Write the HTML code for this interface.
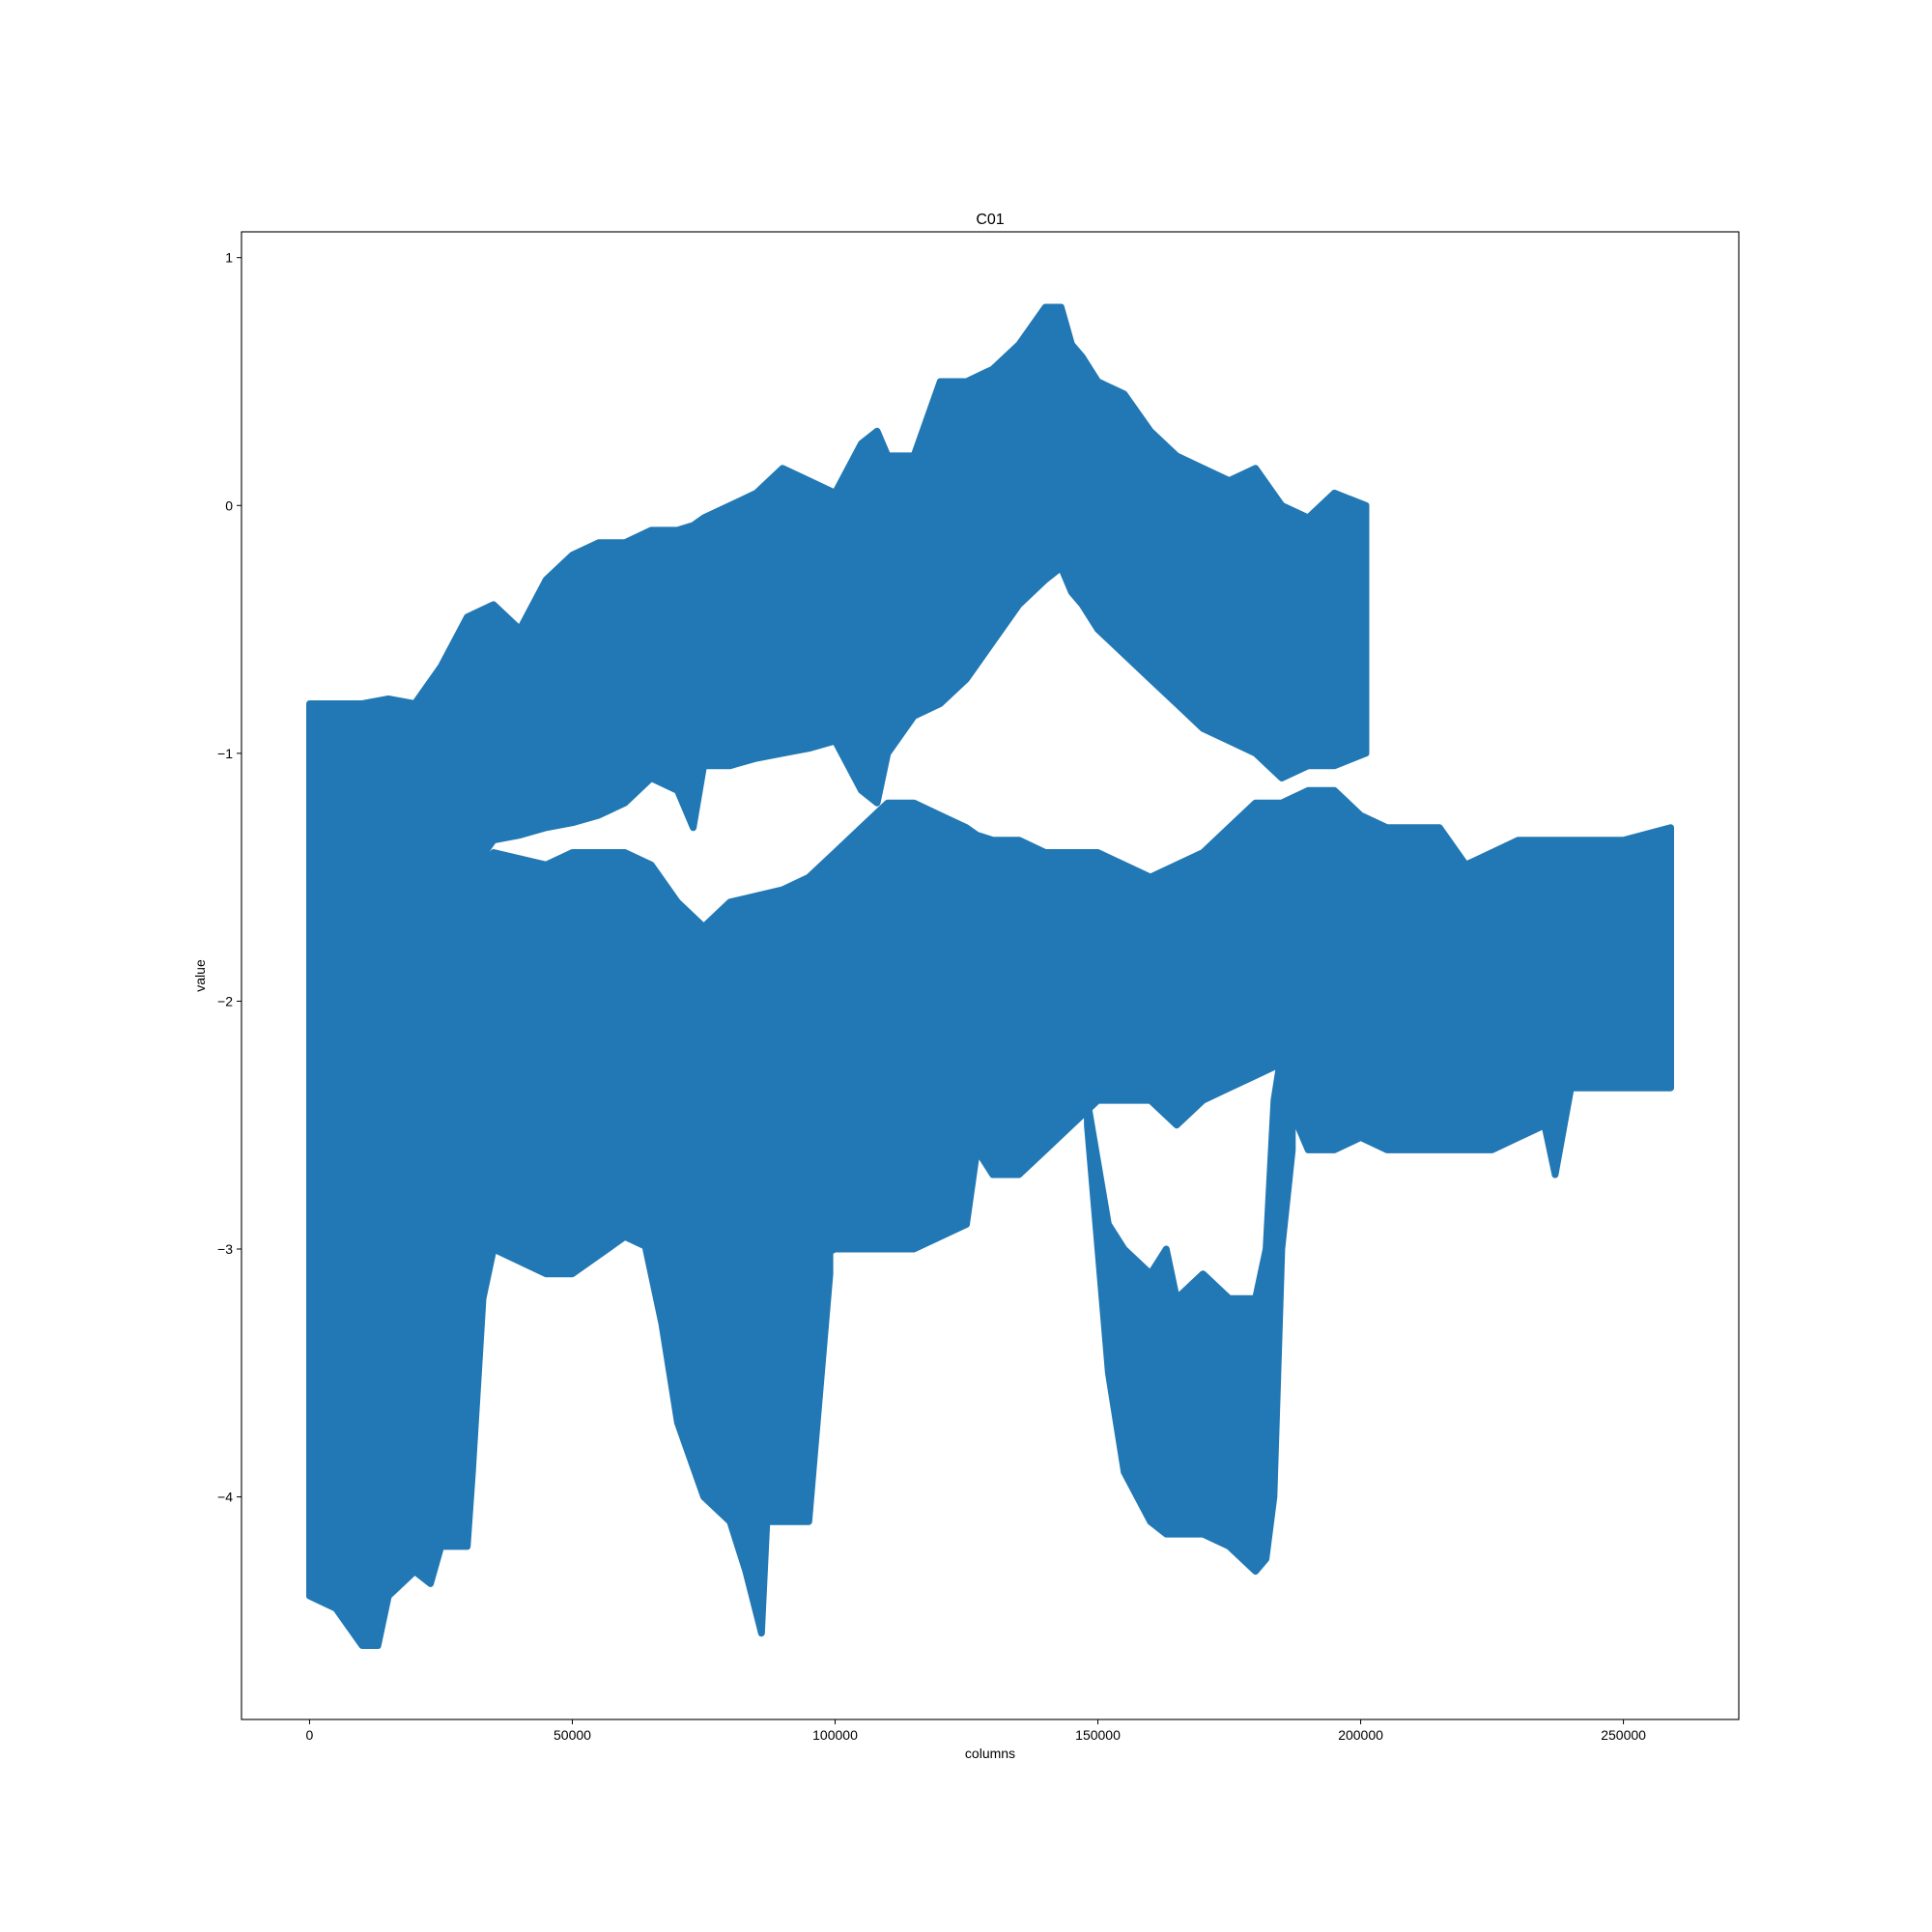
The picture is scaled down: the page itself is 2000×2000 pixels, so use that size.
<!DOCTYPE html>
<html><head><meta charset="utf-8"><style>
html,body{margin:0;padding:0;background:#fff;}
svg{display:block;font-family:"Liberation Sans","DejaVu Sans",sans-serif;}
</style></head><body>
<svg id="chart" width="2000" height="2000" viewBox="0 0 2000 2000">
<rect width="2000" height="2000" fill="#fff"/>
<g id="plot"></g>
<g id="axes"></g>
<text x="1025" y="232" font-size="16" text-anchor="middle">C01</text>
<text x="1025" y="1820" font-size="14" text-anchor="middle">columns</text>
<text x="0" y="0" font-size="14" text-anchor="middle" transform="translate(212,1010) rotate(-90)">value</text>
</svg>
<script>
const xTicks=[0,50000,100000,150000,200000,250000];
const yTicks=[1,0,-1,-2,-3,-4];
const yTickLabels=["1","0","\u22121","\u22122","\u22123","\u22124"];
// top band (upper cluster)
const topX=[0,5000,10000,15000,20000,25000,30000,35000,40000,45000,50000,55000,60000,65000,70000,73000,75000,80000,85000,90000,95000,100000,105000,108000,110000,115000,120000,125000,130000,135000,140000,143000,145000,147000,150000,155000,160000,165000,170000,175000,180000,185000,190000,195000,201000];
const topUpper=[-0.8,-0.8,-0.8,-0.78,-0.8,-0.65,-0.45,-0.4,-0.5,-0.3,-0.2,-0.15,-0.15,-0.1,-0.1,-0.08,-0.05,0.0,0.05,0.15,0.1,0.05,0.25,0.3,0.2,0.2,0.5,0.5,0.55,0.65,0.8,0.8,0.65,0.6,0.5,0.45,0.3,0.2,0.15,0.1,0.15,0.0,-0.05,0.05,0.0];
const topLower=[-1.9,-1.9,-1.9,-1.8,-1.7,-1.6,-1.5,-1.35,-1.33,-1.3,-1.28,-1.25,-1.2,-1.1,-1.15,-1.3,-1.05,-1.05,-1.02,-1.0,-0.98,-0.95,-1.15,-1.2,-1.0,-0.85,-0.8,-0.7,-0.55,-0.4,-0.3,-0.25,-0.35,-0.4,-0.5,-0.6,-0.7,-0.8,-0.9,-0.95,-1.0,-1.1,-1.05,-1.05,-1.0];
// middle band
const midX=[0,30000,35000,45000,50000,60000,65000,70000,75000,80000,90000,95000,100000,105000,110000,115000,120000,125000,127000,130000,135000,140000,145000,150000,155000,160000,165000,170000,175000,180000,185000,187000,190000,195000,200000,205000,210000,215000,220000,225000,230000,235000,237000,240000,250000,259000];
const midUpper=[-1.5,-1.5,-1.4,-1.45,-1.4,-1.4,-1.45,-1.6,-1.7,-1.6,-1.55,-1.5,-1.4,-1.3,-1.2,-1.2,-1.25,-1.3,-1.33,-1.35,-1.35,-1.4,-1.4,-1.4,-1.45,-1.5,-1.45,-1.4,-1.3,-1.2,-1.2,-1.18,-1.15,-1.15,-1.25,-1.3,-1.3,-1.3,-1.45,-1.4,-1.35,-1.35,-1.35,-1.35,-1.35,-1.3];
const midLower=[-3.0,-3.0,-3.0,-3.1,-3.1,-2.95,-3.0,-3.0,-3.0,-3.0,-3.0,-3.05,-3.0,-3.0,-3.0,-3.0,-2.95,-2.9,-2.6,-2.7,-2.7,-2.6,-2.5,-2.4,-2.4,-2.4,-2.5,-2.4,-2.35,-2.3,-2.25,-2.45,-2.6,-2.6,-2.55,-2.6,-2.6,-2.6,-2.6,-2.6,-2.55,-2.5,-2.7,-2.35,-2.35,-2.35];
// deep dip segments
const dip1X=[0,5000,10000,13000,15000,20000,23000,25000,30000,31000,33000,35000];
const dip1Upper=[-1.5,-1.5,-1.5,-1.5,-1.5,-1.5,-1.5,-1.5,-1.5,-1.6,-2.0,-2.5];
const dip1Lower=[-4.4,-4.45,-4.6,-4.6,-4.4,-4.3,-4.35,-4.2,-4.2,-3.9,-3.2,-3.0];
const dip2X=[64000,67000,70000,75000,80000,83000,86000,87000,90000,95000,97000,99000];
const dip2Upper=[-2.8,-2.8,-2.8,-2.8,-2.8,-2.8,-2.8,-2.8,-2.8,-2.8,-2.8,-2.8];
const dip2Lower=[-3.0,-3.3,-3.7,-4.0,-4.1,-4.3,-4.55,-4.1,-4.1,-4.1,-3.6,-3.1];
const dip3X=[148000,152000,155000,160000,163000,165000,170000,175000,180000,182000,183500,185000,187000];
const dip3Upper=[-2.4,-2.9,-3.0,-3.1,-3.0,-3.2,-3.1,-3.2,-3.2,-3.0,-2.4,-2.2,-2.3];
const dip3Lower=[-2.5,-3.5,-3.9,-4.1,-4.15,-4.15,-4.15,-4.2,-4.3,-4.25,-4.0,-3.0,-2.6];

const L=250,R=1800,T=240,B=1780;
const xMin=-12950,xMax=271950,yMin=-4.898,yMax=1.104;
function sx(v){return L+(v-xMin)/(xMax-xMin)*(R-L);}
function sy(v){return B-(v-yMin)/(yMax-yMin)*(B-T);}
const NS='http://www.w3.org/2000/svg';
const plot=document.getElementById('plot');
function band(xs,up,lo,name){
  let pts=[];
  for(let i=0;i<xs.length;i++)pts.push(sx(xs[i]).toFixed(1)+','+sy(up[i]).toFixed(1));
  for(let i=xs.length-1;i>=0;i--)pts.push(sx(xs[i]).toFixed(1)+','+sy(lo[i]).toFixed(1));
  const p=document.createElementNS(NS,'polygon');
  p.setAttribute('points',pts.join(' '));
  p.setAttribute('fill','#2178b4');
  p.setAttribute('stroke','#2178b4');
  p.setAttribute('stroke-width','7');
  p.setAttribute('stroke-linejoin','round');
  
  
  plot.appendChild(p);
}
band(topX,topUpper,topLower,'upper-band');
band(midX,midUpper,midLower,'middle-band');
band(dip1X,dip1Upper,dip1Lower,'dip-band-1');
band(dip2X,dip2Upper,dip2Lower,'dip-band-2');
band(dip3X,dip3Upper,dip3Lower,'dip-band-3');

const axes=document.getElementById('axes');
const frame=document.createElementNS(NS,'rect');
frame.setAttribute('x',L);frame.setAttribute('y',T);
frame.setAttribute('width',R-L);frame.setAttribute('height',B-T);
frame.setAttribute('fill','none');frame.setAttribute('stroke','#000');frame.setAttribute('stroke-width','1.1');


axes.appendChild(frame);
xTicks.forEach(v=>{
  const x=sx(v);
  const l=document.createElementNS(NS,'line');
  l.setAttribute('x1',x);l.setAttribute('x2',x);l.setAttribute('y1',B);l.setAttribute('y2',B+5);
  l.setAttribute('stroke','#000');
  
  
  axes.appendChild(l);
  const t=document.createElementNS(NS,'text');
  t.setAttribute('x',x);t.setAttribute('y',B+21);t.setAttribute('font-size','14');t.setAttribute('text-anchor','middle');
  t.textContent=String(v);
  
  
  axes.appendChild(t);
});
yTicks.forEach((v,i)=>{
  const y=sy(v);
  const l=document.createElementNS(NS,'line');
  l.setAttribute('x1',L-5);l.setAttribute('x2',L);l.setAttribute('y1',y);l.setAttribute('y2',y);
  l.setAttribute('stroke','#000');
  
  
  axes.appendChild(l);
  const t=document.createElementNS(NS,'text');
  t.setAttribute('x',L-9);t.setAttribute('y',y+5);t.setAttribute('font-size','14');t.setAttribute('text-anchor','end');
  t.textContent=yTickLabels[i];
  
  
  axes.appendChild(t);
});
</script>
</body></html>
